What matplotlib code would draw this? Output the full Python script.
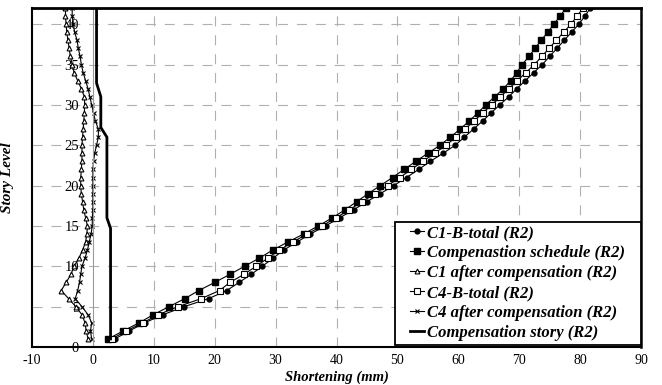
import matplotlib
matplotlib.use("Agg")
import matplotlib.pyplot as plt
from matplotlib.patches import Rectangle

plt.rcParams['font.family'] = ['Liberation Serif', 'DejaVu Serif']
plt.rcParams['axes.unicode_minus'] = False

stories = list(range(1, 43))

c1_total = [3.6, 6.0, 8.5, 11.5, 15.0, 19.0, 22.0, 24.0, 26.0, 27.8,
            29.6, 31.3, 33.5, 35.7, 38.2, 40.5, 42.8, 45.0, 47.2, 49.4,
            51.5, 53.5, 55.4, 57.5, 59.5, 61.0, 62.5, 64.0, 65.4, 66.8,
            68.3, 69.6, 71.0, 72.4, 73.8, 75.0, 76.2, 77.4, 78.6, 79.8,
            80.8, 81.7]

comp_schedule = [2.5, 5.0, 7.6, 9.9, 12.5, 15.1, 17.4, 20.0, 22.5, 24.9,
                 27.3, 29.5, 32.0, 34.6, 37.0, 39.3, 41.4, 43.3, 45.2, 47.2,
                 49.2, 51.1, 53.0, 55.0, 57.0, 58.7, 60.3, 61.8, 63.2, 64.5,
                 66.0, 67.4, 68.6, 69.6, 70.5, 71.6, 72.6, 73.6, 74.7, 75.7,
                 76.7, 77.7]

c1_after = [-0.8, -1.1, -1.3, -1.8, -2.8, -4.0, -5.2, -4.4, -3.6, -3.1,
            -2.3, -1.7, -1.2, -1.0, -0.9, -1.2, -1.5, -1.7, -1.9, -2.0,
            -2.0, -1.9, -1.8, -1.8, -1.8, -1.7, -1.6, -1.5, -1.4, -1.35,
            -1.4, -1.9, -2.5, -3.1, -3.4, -3.7, -3.9, -4.1, -4.3, -4.4,
            -4.5, -4.5]

c4_total = [3.1, 5.5, 8.2, 10.7, 14.0, 17.8, 20.8, 22.5, 24.8, 26.8,
            28.7, 30.6, 32.8, 35.2, 37.6, 39.9, 42.1, 44.2, 46.3, 48.4,
            50.4, 52.3, 54.2, 56.1, 58.0, 59.6, 61.1, 62.6, 64.0, 65.5,
            66.9, 68.3, 69.7, 71.1, 72.5, 73.7, 74.9, 76.1, 77.3, 78.5,
            79.5, 80.5]

c4_after = [-0.2, -0.4, -0.2, -0.8, -1.8, -2.9, -2.5, -2.2, -2.0, -1.8,
            -1.3, -0.9, -0.6, -0.3, -0.1, -0.1, 0.0, 0.0, 0.0, 0.0,
            0.0, 0.0, 0.1, 0.3, 0.6, 0.9, 0.9, 0.4, 0.1, -0.2,
            -0.5, -0.8, -1.2, -1.6, -1.9, -2.1, -2.4, -2.6, -3.0, -3.2,
            -3.4, -3.4]

comp_story_levels = [1, 14.7, 16, 26, 27.2, 31, 32.7, 42]
comp_story_values = [2.9, 2.9, 2.3, 2.3, 1.3, 1.3, 0.6, 0.6]

x_ticks = [-10, 0, 10, 20, 30, 40, 50, 60, 70, 80, 90]
y_ticks = [0, 5, 10, 15, 20, 25, 30, 35, 40]

labels = ["C1-B-total (R2)", "Compenastion schedule (R2)",
          "C1 after compensation (R2)", "C4-B-total (R2)",
          "C4 after compensation (R2)", "Compensation story (R2)"]

fig = plt.figure(figsize=(6.62, 3.85), dpi=100)
ax = fig.add_axes([32/662, 1-347/385, (641-32)/662, (347-8)/385])

ax.set_xlim(-10, 90)
ax.set_ylim(0, 42)
ax.set_xticks(x_ticks)
ax.set_yticks(y_ticks)

# grid
for yv in y_ticks[1:]:
    ax.axhline(yv, color='#b0b0b0', lw=0.8, dashes=(9, 8), zorder=0)
for xv in x_ticks[2:-1]:
    ax.axvline(xv, color='#b0b0b0', lw=0.8, dashes=(9, 8), zorder=0)

lw = 0.8
ax.plot(c1_total, stories, color='black', lw=lw, marker='o', ms=3.5,
        mfc='black', mec='black', label=labels[0])
ax.plot(comp_schedule, stories, color='black', lw=lw, marker='s', ms=4,
        mfc='black', mec='black', label=labels[1])
ax.plot(c1_after, stories, color='black', lw=lw, marker='^', ms=3.5,
        mfc='white', mec='black', mew=0.8, label=labels[2])
ax.plot(c4_total, stories, color='black', lw=lw, marker='s', ms=4,
        mfc='white', mec='black', mew=0.8, label=labels[3])
ax.plot(c4_after, stories, color='black', lw=lw, marker='x', ms=3.5,
        mec='black', mew=0.8, label=labels[4])
ax.plot(comp_story_values, comp_story_levels, color='black', lw=2,
        label=labels[5])

# spines
ax.spines['left'].set_position(('data', 0))
ax.spines['left'].set_color('#999999')
ax.spines['left'].set_linewidth(0.8)
ax.axvline(-10, color='black', lw=1.5, clip_on=False)
ax.spines['top'].set_linewidth(2.0)
ax.spines['right'].set_linewidth(1.8)
ax.spines['bottom'].set_linewidth(1.5)

ax.tick_params(axis='y', length=0, pad=10, labelsize=10.5)
ax.tick_params(axis='x', length=0, pad=5, labelsize=10)

ax.set_xlabel('Shortening (mm)', fontsize=10.5, fontweight='bold',
              fontstyle='italic')
ax.xaxis.set_label_coords(0.5, -0.07)
ax.set_ylabel('Story Level', fontsize=11, fontweight='bold',
              fontstyle='italic')
ax.yaxis.set_label_coords(-0.03, 0.5)

# legend frame (drawn as a box) and entries
frame = Rectangle((0.596, 0.006), 0.404, 0.363, transform=ax.transAxes,
                  facecolor='white', edgecolor='black', lw=1.3, zorder=4)
ax.add_patch(frame)
leg = ax.legend(loc='lower right', bbox_to_anchor=(0.9737, 0.018),
                frameon=False, handlelength=0.85, handletextpad=0.15,
                borderpad=0.0, labelspacing=0.24, borderaxespad=0.0,
                prop={'family': 'Liberation Serif', 'weight': 'bold',
                      'style': 'italic', 'size': 12})
leg.set_zorder(5)

fig.savefig('out.png', dpi=100)
